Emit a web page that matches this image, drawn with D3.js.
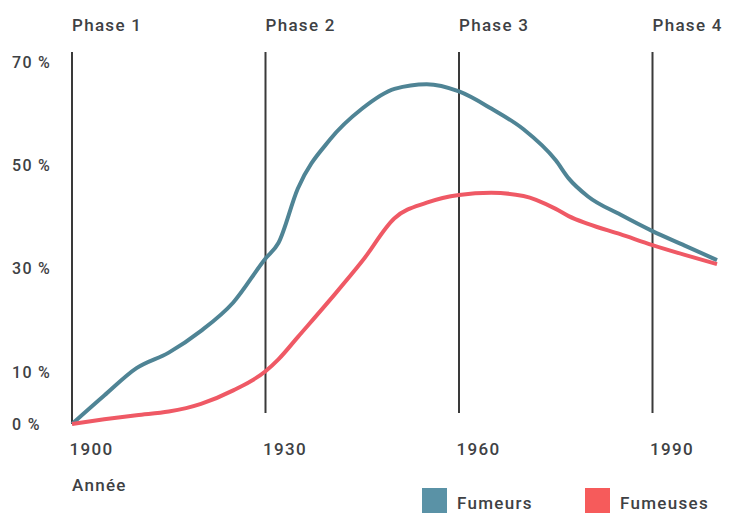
<!DOCTYPE html>
<html>
<head>
<meta charset="utf-8">
<script src="https://cdn.jsdelivr.net/npm/d3@7"></script>
<style>
  body { margin: 0; background: #fff; }
  svg text { font-family: Roboto, "Noto Sans", sans-serif; font-weight: 500; fill: #3e4144; letter-spacing: 1.3px; }
</style>
</head>
<body>
<svg id="chart" width="730" height="516"></svg>
<script>
var years = [1900, 1905, 1910, 1915, 1920, 1925, 1930, 1932, 1935, 1940, 1945, 1950, 1955, 1960, 1965, 1970, 1975, 1977, 1980, 1985, 1990, 1995, 2000]
var fumeurs = [0, 5.5, 10.8, 13.8, 18, 23.5, 32, 35, 45.5, 55, 61, 64.8, 65.7, 64.3, 61, 57, 51, 47.5, 44, 40.5, 37.3, 34.5, 31.7]
var fumeuses = [0, 0.9, 1.7, 2.4, 3.9, 6.5, 10.2, 12.5, 16.8, 24, 31.5, 39.8, 42.8, 44.3, 44.7, 44.1, 41.6, 40.2, 38.7, 36.7, 34.6, 32.7, 30.9]
var phases = ['Phase 1', 'Phase 2', 'Phase 3', 'Phase 4']
var phaseYears = [1900, 1930, 1960, 1990]
var yTicks = [0, 10, 30, 50, 70]
var series = ['Fumeurs', 'Fumeuses']
var colors = {line: ['#4f8495', '#ef5965'], key: ['#5a92a6', '#f65b5b']}

var svg = d3.select('#chart')

var x = d3.scaleLinear().domain([1900, 2000]).range([72, 717])
var y = d3.scaleLinear().domain([0, 70]).range([424, 62])

// phase lines
svg.append('g').selectAll('line')
	.data(phaseYears)
	.join('line')
	.attr('x1', function(d) { return x(d) })
	.attr('x2', function(d) { return x(d) })
	.attr('y1', 52)
	.attr('y2', function(d, i) { return i == 0 ? y(0) : 413 })
	.attr('stroke', '#3a3a3a')
	.attr('stroke-width', 2)

svg.append('g').selectAll('text')
	.data(phases)
	.join('text')
	.attr('x', function(d, i) { return x(phaseYears[i]) })
	.attr('y', 25)
	.attr('dy', '0.35em')
	.style('font-size', '17px')
	.text(function(d) { return d })

// axes
var yAxis = svg.append('g')
	.attr('transform', 'translate(12,0)')
	.call(d3.axisLeft(y).tickValues(yTicks).tickSize(0).tickPadding(0).tickFormat(function(d) { return d + ' %' }))
yAxis.select('.domain').remove()
yAxis.selectAll('text')
	.attr('text-anchor', 'start')
	.style('font-size', '16px')

var xAxis = svg.append('g')
	.attr('transform', 'translate(-3,449)')
	.call(d3.axisBottom(x).tickValues(phaseYears).tickSize(0).tickPadding(0).tickFormat(d3.format('d')))
xAxis.select('.domain').remove()
xAxis.selectAll('text')
	.attr('text-anchor', 'start')
	.attr('y', 0)
	.attr('dy', '0.35em')
	.style('font-size', '17px')

svg.append('text')
	.attr('x', x(1900))
	.attr('y', 485)
	.attr('dy', '0.35em')
	.style('font-size', '17px')
	.text('Année')

// lines
var line = d3.line()
	.x(function(d, i) { return x(years[i]) })
	.y(function(d) { return y(d) })
	.curve(d3.curveMonotoneX)

svg.append('g').selectAll('path')
	.data([fumeurs, fumeuses])
	.join('path')
	.attr('d', line)
	.attr('fill', 'none')
	.attr('stroke', function(d, i) { return colors.line[i] })
	.attr('stroke-width', 4)
	.attr('stroke-linejoin', 'round')

// legend
var keyX = [422, 585]
var legend = svg.append('g').selectAll('g')
	.data(series)
	.join('g')
	.attr('transform', function(d, i) { return 'translate(' + keyX[i] + ',488)' })
legend.append('rect')
	.attr('width', 25)
	.attr('height', 25)
	.attr('fill', function(d, i) { return colors.key[i] })
legend.append('text')
	.attr('x', 35)
	.attr('y', 15)
	.attr('dy', '0.35em')
	.style('font-size', '17px')
	.text(function(d) { return d })
</script>
</body>
</html>
